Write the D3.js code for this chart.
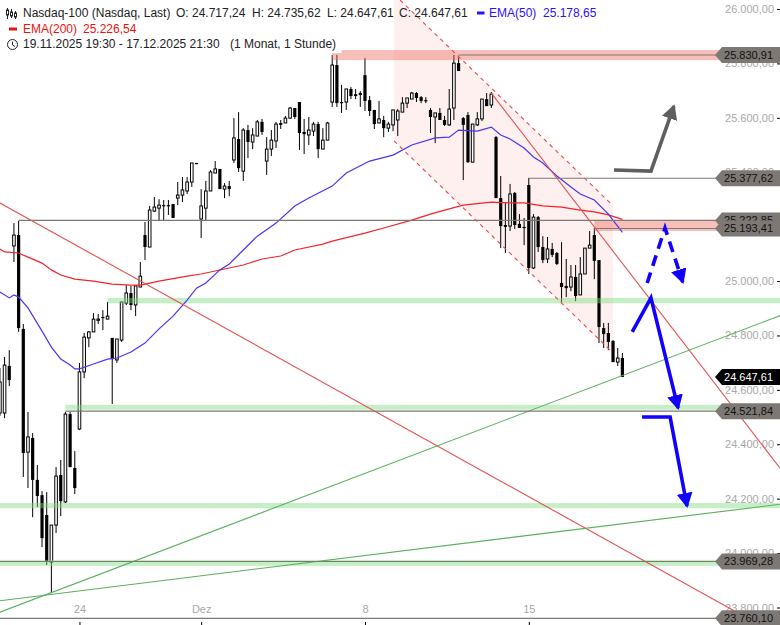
<!DOCTYPE html>
<html>
<head>
<meta charset="utf-8">
<title>Nasdaq-100</title>
<script src="https://cdnjs.cloudflare.com/ajax/libs/d3/7.8.5/d3.min.js"></script>
<style>
body { margin: 0; background: #fff; }
text { font-family: "Liberation Sans", Arial, sans-serif; }
.head { font-size: 12px; fill: #222; }
.axis text { font-size: 11px; fill: #a8a8a8; }
.axis line { stroke: #000; }
.axis path { display: none; }
.pricetag { font-size: 11px; }
</style>
</head>
<body>
<svg id="chart" width="780" height="625"></svg>
<script>
// hourly candles, bar number = position in the arrays
var opens = [24515,24515,24688,25129,25169,24824,24371,24423,24269,24213,
  24140,23967,24103,24287,24188,24511,24313,24456,24666,24791,
  24813,24857,24868,24860,24791,24710,24783,24919,24956,24912,
  24978,25169,25125,25257,25268,25279,25279,25283,25305,25316,
  25331,25364,25434,25228,25268,25331,25397,25412,25338,25349,
  25445,25522,25404,25555,25511,25533,25585,25441,25485,25515,
  25581,25581,25599,25636,25658,25548,25537,25551,25577,25485,
  25518,25658,25794,25658,25658,25706,25687,25691,25757,25665,
  25629,25581,25592,25562,25574,25592,25621,25654,25669,25691,
  25676,25665,25629,25603,25618,25592,25574,25636,25801,25599,
  25610,25437,25574,25596,25669,25647,25529,25305,25206,25202,
  25324,25210,25199,25353,25048,25235,25125,25081,25118,25103,
  24993,24982,24978,25015,24949,25026,25121,25169,25077,24827,
  24809,24780,24702,24717.24];
var highs = [24680,24721,24746,25213,25221,24842,24519,24441,24324,24228,
  24224,24103,24316,24342,24519,24519,24375,24699,24809,24816,
  24882,24879,24893,24923,24791,24787,24923,24985,24982,24982,
  25070,25217,25276,25309,25301,25298,25298,25283,25364,25382,
  25382,25434,25434,25338,25368,25408,25441,25412,25360,25368,
  25599,25621,25562,25574,25562,25592,25596,25529,25555,25585,
  25592,25607,25640,25636,25658,25596,25603,25585,25585,25562,
  25585,25831,25831,25721,25706,25713,25706,25698,25820,25680,
  25629,25662,25607,25585,25629,25632,25676,25673,25695,25695,
  25680,25676,25636,25618,25636,25607,25706,25831,25823,25603,
  25621,25577,25621,25669,25691,25695,25533,25386,25287,25357,
  25327,25246,25232,25379,25246,25239,25165,25162,25140,25107,
  25143,25081,25059,25059,25088,25121,25184,25195,25077,24846,
  24846,24783,24754,24735.62];
var lows = [24504,24496,24614,25070,24813,24280,24239,24132,24169,24022,
  23956,23853,24074,24136,24184,24316,24217,24452,24643,24757,
  24813,24842,24820,24860,24548,24699,24776,24912,24893,24871,
  24978,25077,25125,25254,25224,25224,25243,25232,25279,25290,
  25320,25346,25430,25158,25224,25331,25397,25338,25305,25312,
  25434,25401,25368,25452,25485,25533,25537,25390,25460,25489,
  25559,25581,25596,25596,25482,25467,25500,25533,25452,25485,
  25518,25640,25640,25618,25629,25669,25669,25640,25625,25607,
  25559,25581,25529,25548,25551,25533,25621,25636,25669,25658,
  25654,25654,25544,25507,25592,25570,25570,25592,25772,25371,
  25434,25437,25570,25588,25643,25636,25305,25121,25103,25184,
  25191,25195,25132,25026,25044,25107,25066,25066,25088,25059,
  24923,24941,24963,24926,24949,25026,25121,25007,24772,24754,
  24746,24702,24688,24647.61];
var closes = [24629,24691,24636,25169,24827,24368,24427,24269,24210,24055,
  23971,24103,24283,24191,24511,24316,24239,24666,24794,24813,
  24860,24860,24864,24871,24713,24787,24923,24956,24912,24982,
  25018,25125,25261,25272,25279,25276,25276,25232,25316,25335,
  25364,25434,25432,25276,25331,25401,25412,25338,25349,25338,
  25526,25415,25555,25511,25537,25585,25548,25485,25518,25577,
  25574,25599,25636,25603,25544,25540,25555,25577,25485,25518,
  25581,25794,25654,25654,25706,25680,25680,25684,25662,25625,
  25577,25596,25562,25577,25629,25625,25654,25673,25691,25673,
  25662,25662,25603,25618,25592,25574,25632,25801,25772,25574,
  25437,25577,25596,25669,25643,25687,25305,25202,25199,25320,
  25206,25195,25195,25048,25235,25125,25077,25118,25096,25063,
  24978,24974,25015,24945,25026,25121,25132,25074,24831,24805,
  24776,24702,24717,24647.61];

var ema50Bars = [0,2,3,4,6,9,11,13,15,16,17,20,23,25,28,31,34,37,40,42,44,47,49,52,55,59,63,66,71,74,79,84,88,93,96,98,102,105,107,109,112,114,116,119,122,124,127,130,133];
var ema50Values = [24960,24938,24949,24941,24901,24816,24757,24713,24691,24677,24677,24695,24713,24717,24739,24772,24824,24871,24930,24974,24993,25041,25063,25114,25165,25213,25276,25305,25349,25397,25441,25463,25500,25526,25529,25555,25551,25566,25537,25522,25489,25456,25434,25386,25346,25320,25298,25246,25178.65];
var ema200Bars = [0,1,4,6,9,11,13,16,20,24,28,30,34,40,43,46,52,56,60,63,69,71,78,82,88,92,96,99,105,109,112,116,120,124,127,130,133];
var ema200Values = [25118,25107,25103,25088,25066,25041,25022,25007,25000,24989,24985,24985,25000,25018,25026,25037,25059,25081,25092,25114,25136,25147,25176,25195,25224,25246,25265,25279,25290,25287,25287,25276,25272,25261,25254,25243,25226.54];

var priceTicks = [26000,25800,25600,25400,25200,25000,24800,24600,24400,24200,24000,23800];
var dateBars = [17,43,78,113];
var dateLabels = ["24","Dez","8","15"];

// drawn levels: price, first bar
var levelPrices = [25830.91,25377.62,25222.85,25193.41,24521.84,23969.28,23760.10];
var levelStarts = [98,113,4,127,14,0,0];

// zones: low price, high price, first bar, last bar
var greenZones = [[24918,24938,23,170],[24527,24545,14,154],[24165,24184,0,170],[23953,23975,0,154]];
var pinkZones = [[25812,25838,71,73],[25812,25849,73,154],[25184,25224,127,154]];

// trend lines: [bar, price, bar, price]
var redLines = [[0,25287,167,23691],[105,25691,167,24305]];
var greenLines = [[0,23783,167,24875],[0,23825,167,24180]];
var channelTop = [85.5,26033,130.4,25287];
var channelBottom = [84.2,25515,130.4,24746];
var channelFill = [[84.2,26055],[131,25276],[131,24735],[84.2,25515]];

// hand drawn arrows
var grayArrow = [[131.2,25408],[139.1,25404],[144.0,25643]];
var blueDashed = [[138.3,24993],[142.1,25195],[145.9,24996]];
var blueFirst = [[135.1,24813],[139.1,24938],[144.9,24533]];
var blueSecond = [[137.2,24500],[143.2,24500],[146.8,24173]];

var svg = d3.select("#chart");
var x = d3.scaleLinear().domain([0, 133]).range([-0.1, 622.4]);
var y = d3.scaleLinear().domain([23800, 26000]).range([607.5, 9]);
var money = d3.formatLocale({decimal: ",", thousands: ".", grouping: [3], currency: ["", ""]}).format(",.2f");

var redInk = "#e2514f", greenInk = "#58b05c", levelInk = "#7d7874";

// channel background
svg.append("polygon")
  .attr("points", channelFill.map(d => x(d[0]) + "," + y(d[1])).join(" "))
  .attr("fill", "#fdf0ef");

// price and date axes sit below the tags
svg.append("g").attr("class", "axis")
  .attr("transform", "translate(780,0)")
  .call(d3.axisLeft(y).tickValues(priceTicks).tickSize(3).tickPadding(3).tickFormat(money));

var dateAxis = svg.append("g").attr("class", "axis")
  .attr("transform", "translate(0,622)")
  .call(d3.axisBottom(x).tickValues(dateBars).tickSize(3).tickFormat((d, i) => dateLabels[i]));
dateAxis.selectAll("text").attr("y", -13).attr("dy", "0.32em");

// candles
var candles = d3.range(opens.length);
var isUp = i => closes[i] > opens[i];
svg.append("g").selectAll("line").data(candles).enter().append("line")
  .attr("x1", i => x(i)).attr("x2", i => x(i))
  .attr("y1", i => y(highs[i])).attr("y2", i => y(lows[i]))
  .attr("stroke", "#000");
svg.append("g").selectAll("rect").data(candles).enter().append("rect")
  .attr("x", i => x(i) - (isUp(i) ? 1.3 : 1.6))
  .attr("width", i => isUp(i) ? 2.6 : 3.2)
  .attr("y", i => y(Math.max(opens[i], closes[i])))
  .attr("height", i => Math.max(1.2, Math.abs(y(opens[i]) - y(closes[i]))))
  .attr("fill", i => isUp(i) ? "#fff" : "#000")
  .attr("stroke", i => isUp(i) ? "#000" : "none")
  .attr("stroke-width", 1);

// zones
function drawZones(zones, colour) {
  svg.append("g").selectAll("rect").data(zones).enter().append("rect")
    .attr("x", d => x(d[2]))
    .attr("width", d => x(d[3]) - x(d[2]))
    .attr("y", d => y(d[1]))
    .attr("height", d => y(d[0]) - y(d[1]))
    .attr("fill", colour);
}
drawZones(greenZones, "rgba(130,220,130,0.45)");
drawZones(pinkZones, "rgba(240,110,100,0.45)");

// moving averages
var emaLine = d3.line().x(d => x(d[0])).y(d => y(d[1]));
svg.append("path").datum(d3.zip(ema200Bars, ema200Values))
  .attr("d", emaLine).attr("fill", "none").attr("stroke", "#f5232a").attr("stroke-width", 1.2);
svg.append("path").datum(d3.zip(ema50Bars, ema50Values))
  .attr("d", emaLine).attr("fill", "none").attr("stroke", "#4a35f0").attr("stroke-width", 1.2);

// trend lines
function drawTrends(rows, colour, dash) {
  svg.append("g").selectAll("line").data(rows).enter().append("line")
    .attr("x1", d => x(d[0])).attr("y1", d => y(d[1]))
    .attr("x2", d => x(d[2])).attr("y2", d => y(d[3]))
    .attr("stroke", colour)
    .attr("stroke-width", 1.1)
    .attr("stroke-dasharray", dash);
}
drawTrends(redLines, redInk, null);
drawTrends(greenLines, greenInk, null);
drawTrends([channelTop, channelBottom], "#e8494c", "4,4");

// horizontal levels
svg.append("g").selectAll("line").data(levelPrices).enter().append("line")
  .attr("x1", (d, i) => x(levelStarts[i])).attr("x2", 722)
  .attr("y1", d => y(d)).attr("y2", d => y(d))
  .attr("stroke", levelInk).attr("stroke-width", 1.1);

// arrow heads
var defs = svg.append("defs");
function addHead(id, colour) {
  defs.append("marker")
    .attr("id", id)
    .attr("markerUnits", "userSpaceOnUse")
    .attr("viewBox", "0 -8 15 16")
    .attr("refX", 13).attr("refY", 0)
    .attr("markerWidth", 15).attr("markerHeight", 16)
    .attr("orient", "auto")
    .append("path").attr("d", "M0,-8L15,0L0,8Z").attr("fill", colour);
}
addHead("headGray", "#5f5f5f");
addHead("headBlue", "#1200ff");

function drawArrow(points, colour, head, dash) {
  svg.append("path").datum(points)
    .attr("d", emaLine)
    .attr("fill", "none")
    .attr("stroke", colour)
    .attr("stroke-width", 3.6)
    .attr("stroke-dasharray", dash)
    .attr("marker-end", "url(#" + head + ")");
}
drawArrow(grayArrow, "#5f5f5f", "headGray", null);
drawArrow(blueDashed, "#1200ff", "headBlue", "11,7");
drawArrow(blueFirst, "#1200ff", "headBlue", null);
drawArrow(blueSecond, "#1200ff", "headBlue", null);

// price tags
function drawTag(value, fill, ink) {
  var g = svg.append("g").attr("transform", "translate(0," + y(value) + ")");
  g.append("path").attr("d", "M715,0L722,-8H780V8H722Z").attr("fill", fill);
  g.append("text").attr("class", "pricetag")
    .attr("x", 773).attr("y", 0).attr("dy", "0.36em")
    .attr("text-anchor", "end").attr("fill", ink)
    .text(money(value));
}
levelPrices.forEach(d => drawTag(d, levelInk, "#111"));
drawTag(closes[closes.length - 1], "#000", "#fff");

// legend
function headText(tx, ty, str, colour) {
  svg.append("text").attr("class", "head")
    .attr("x", tx).attr("y", ty)
    .style("fill", colour || "#222")
    .text(str);
}
headText(23, 17, "Nasdaq-100 (Nasdaq, Last)");
headText(176, 17, "O: 24.717,24");
headText(252, 17, "H: 24.735,62");
headText(327, 17, "L: 24.647,61");
headText(399, 17, "C: 24.647,61");
headText(489, 17, "EMA(50)", "#2a10ff");
headText(543, 17, money(ema50Values[ema50Values.length - 1]), "#2a10ff");
headText(23, 33, "EMA(200)", "#f01010");
headText(83, 33, money(ema200Values[ema200Values.length - 1]), "#f01010");
headText(23, 48, "19.11.2025 19:30 - 17.12.2025 21:30");
headText(230, 48, "(1 Monat, 1 Stunde)");

svg.append("rect").attr("x", 477).attr("y", 11.5).attr("width", 7.5).attr("height", 3).attr("fill", "#2a10ff");
svg.append("rect").attr("x", 9).attr("y", 27.5).attr("width", 8).attr("height", 3).attr("fill", "#f01010");

// small candle icon and clock
var icon = svg.append("g").attr("stroke", "#222").attr("fill", "none");
[[7.5,8,19,10,15],[11.5,9,18,12,16],[15.5,11,19,13,17]].forEach(function (c) {
  icon.append("line").attr("x1", c[0]).attr("x2", c[0]).attr("y1", c[1]).attr("y2", c[2]);
  icon.append("rect").attr("x", c[0] - 1).attr("y", c[3]).attr("width", 2).attr("height", c[4] - c[3]).attr("fill", "#fff");
});
icon.append("circle").attr("cx", 12.5).attr("cy", 44.5).attr("r", 5);
icon.append("path").attr("d", "M12.5,41.5V45L15,46.5");
</script>
</body>
</html>
